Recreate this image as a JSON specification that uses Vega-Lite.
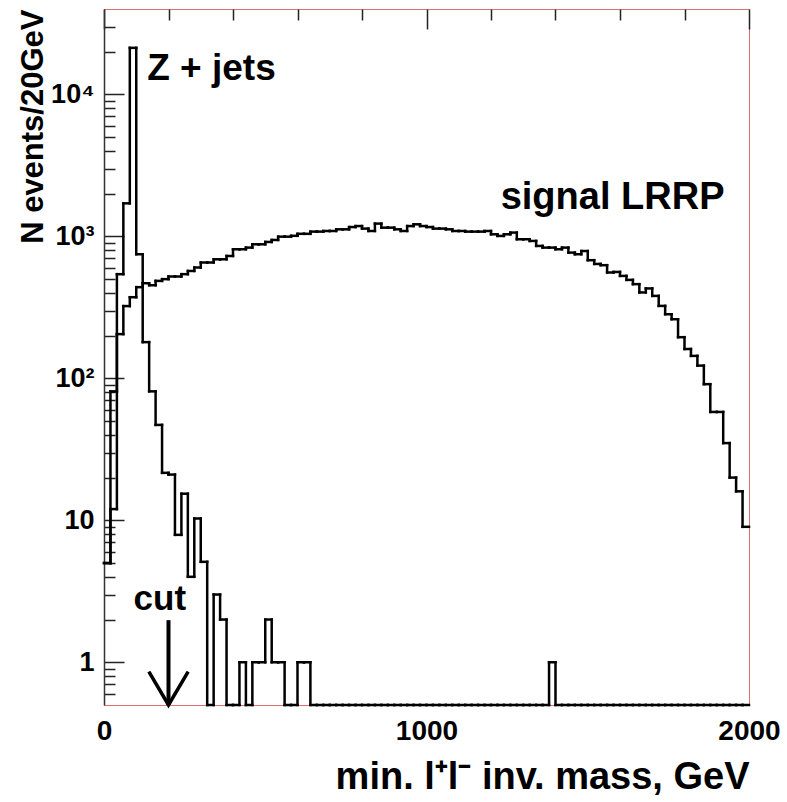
{
  "$schema": "https://vega.github.io/schema/vega-lite/v6.json",
  "width": 645,
  "height": 696,
  "autosize": "none",
  "padding": {"left": 104, "top": 9, "right": 38, "bottom": 97},
  "config": {
    "view": {"stroke": "#e07070", "strokeWidth": 1},
    "font": "Liberation Sans",
    "axis": {"labelColor": "#000", "titleColor": "#000"}
  },
  "datasets": {
    "hist": [
      {"lo":0,"hi":20,"signal":5,"zjets":5},
      {"lo":20,"hi":40,"signal":12,"zjets":81},
      {"lo":40,"hi":60,"signal":205,"zjets":542},
      {"lo":60,"hi":80,"signal":323,"zjets":1710},
      {"lo":80,"hi":100,"signal":373,"zjets":21300},
      {"lo":100,"hi":120,"signal":439,"zjets":749},
      {"lo":120,"hi":140,"signal":468,"zjets":180},
      {"lo":140,"hi":160,"signal":453,"zjets":81},
      {"lo":160,"hi":180,"signal":486,"zjets":47},
      {"lo":180,"hi":200,"signal":500,"zjets":21.6},
      {"lo":200,"hi":220,"signal":522,"zjets":21},
      {"lo":220,"hi":240,"signal":522,"zjets":7.9},
      {"lo":240,"hi":260,"signal":542,"zjets":15.4},
      {"lo":260,"hi":280,"signal":571,"zjets":4},
      {"lo":280,"hi":300,"signal":604,"zjets":10.3},
      {"lo":300,"hi":320,"signal":655,"zjets":5.1},
      {"lo":320,"hi":340,"signal":655,"zjets":0},
      {"lo":340,"hi":360,"signal":690,"zjets":3},
      {"lo":360,"hi":380,"signal":690,"zjets":2},
      {"lo":380,"hi":400,"signal":728,"zjets":0},
      {"lo":400,"hi":420,"signal":812,"zjets":0},
      {"lo":420,"hi":440,"signal":812,"zjets":1},
      {"lo":440,"hi":460,"signal":834,"zjets":0},
      {"lo":460,"hi":480,"signal":880,"zjets":1},
      {"lo":480,"hi":500,"signal":880,"zjets":1},
      {"lo":500,"hi":520,"signal":914,"zjets":2},
      {"lo":520,"hi":540,"signal":944,"zjets":1},
      {"lo":540,"hi":560,"signal":996,"zjets":1},
      {"lo":560,"hi":580,"signal":996,"zjets":0},
      {"lo":580,"hi":600,"signal":1010,"zjets":0},
      {"lo":600,"hi":620,"signal":1043,"zjets":1},
      {"lo":620,"hi":640,"signal":1043,"zjets":1},
      {"lo":640,"hi":660,"signal":1081,"zjets":0},
      {"lo":660,"hi":680,"signal":1081,"zjets":0},
      {"lo":680,"hi":700,"signal":1092,"zjets":0},
      {"lo":700,"hi":720,"signal":1092,"zjets":0},
      {"lo":720,"hi":740,"signal":1122,"zjets":0},
      {"lo":740,"hi":760,"signal":1122,"zjets":0},
      {"lo":760,"hi":780,"signal":1164,"zjets":0},
      {"lo":780,"hi":800,"signal":1183,"zjets":0},
      {"lo":800,"hi":820,"signal":1135,"zjets":0},
      {"lo":820,"hi":840,"signal":1092,"zjets":0},
      {"lo":840,"hi":860,"signal":1231,"zjets":0},
      {"lo":860,"hi":880,"signal":1153,"zjets":0},
      {"lo":880,"hi":900,"signal":1153,"zjets":0},
      {"lo":900,"hi":920,"signal":1122,"zjets":0},
      {"lo":920,"hi":940,"signal":1092,"zjets":0},
      {"lo":940,"hi":960,"signal":1183,"zjets":0},
      {"lo":960,"hi":980,"signal":1217,"zjets":0},
      {"lo":980,"hi":1000,"signal":1183,"zjets":0},
      {"lo":1000,"hi":1020,"signal":1164,"zjets":0},
      {"lo":1020,"hi":1040,"signal":1135,"zjets":0},
      {"lo":1040,"hi":1060,"signal":1135,"zjets":0},
      {"lo":1060,"hi":1080,"signal":1122,"zjets":0},
      {"lo":1080,"hi":1100,"signal":1092,"zjets":0},
      {"lo":1100,"hi":1120,"signal":1092,"zjets":0},
      {"lo":1120,"hi":1140,"signal":1081,"zjets":0},
      {"lo":1140,"hi":1160,"signal":1081,"zjets":0},
      {"lo":1160,"hi":1180,"signal":1081,"zjets":0},
      {"lo":1180,"hi":1200,"signal":1092,"zjets":0},
      {"lo":1200,"hi":1220,"signal":1035,"zjets":0},
      {"lo":1220,"hi":1240,"signal":1008,"zjets":0},
      {"lo":1240,"hi":1260,"signal":1035,"zjets":0},
      {"lo":1260,"hi":1280,"signal":1064,"zjets":0},
      {"lo":1280,"hi":1300,"signal":955,"zjets":0},
      {"lo":1300,"hi":1320,"signal":955,"zjets":0},
      {"lo":1320,"hi":1340,"signal":929,"zjets":0},
      {"lo":1340,"hi":1360,"signal":857,"zjets":0},
      {"lo":1360,"hi":1380,"signal":834,"zjets":0},
      {"lo":1380,"hi":1400,"signal":834,"zjets":1},
      {"lo":1400,"hi":1420,"signal":812,"zjets":0},
      {"lo":1420,"hi":1440,"signal":834,"zjets":0},
      {"lo":1440,"hi":1460,"signal":769,"zjets":0},
      {"lo":1460,"hi":1480,"signal":749,"zjets":0},
      {"lo":1480,"hi":1500,"signal":789,"zjets":0},
      {"lo":1500,"hi":1520,"signal":680,"zjets":0},
      {"lo":1520,"hi":1540,"signal":640,"zjets":0},
      {"lo":1540,"hi":1560,"signal":627,"zjets":0},
      {"lo":1560,"hi":1580,"signal":557,"zjets":0},
      {"lo":1580,"hi":1600,"signal":562,"zjets":0},
      {"lo":1600,"hi":1620,"signal":527,"zjets":0},
      {"lo":1620,"hi":1640,"signal":494,"zjets":0},
      {"lo":1640,"hi":1660,"signal":461,"zjets":0},
      {"lo":1660,"hi":1680,"signal":403,"zjets":0},
      {"lo":1680,"hi":1700,"signal":430,"zjets":0},
      {"lo":1700,"hi":1720,"signal":381,"zjets":0},
      {"lo":1720,"hi":1740,"signal":324,"zjets":0},
      {"lo":1740,"hi":1760,"signal":283,"zjets":0},
      {"lo":1760,"hi":1780,"signal":261,"zjets":0},
      {"lo":1780,"hi":1800,"signal":195,"zjets":0},
      {"lo":1800,"hi":1820,"signal":161,"zjets":0},
      {"lo":1820,"hi":1840,"signal":144,"zjets":0},
      {"lo":1840,"hi":1860,"signal":123,"zjets":0},
      {"lo":1860,"hi":1880,"signal":91,"zjets":0},
      {"lo":1880,"hi":1900,"signal":58,"zjets":0},
      {"lo":1900,"hi":1920,"signal":58,"zjets":0},
      {"lo":1920,"hi":1940,"signal":35,"zjets":0},
      {"lo":1940,"hi":1960,"signal":20,"zjets":0},
      {"lo":1960,"hi":1980,"signal":16,"zjets":0},
      {"lo":1980,"hi":2000,"signal":9,"zjets":0}
    ],
    "arrowhead": [
      {"m": 139, "n": 0.86},
      {"m": 200, "n": 0.5},
      {"m": 261, "n": 0.86}
    ]
  },
  "layer": [
    {
      "data": {"name": "hist"},
      "transform": [{"fold": ["signal", "zjets"], "as": ["series", "n"]}],
      "mark": {"type": "rule", "color": "#000", "strokeWidth": 2.5, "strokeCap": "square"},
      "encoding": {
        "x": {"field": "lo", "type": "quantitative",
              "scale": {"domain": [0, 2000], "nice": false, "zero": false},
              "axis": {"orient": "bottom",
                       "values": [0, 100, 200, 300, 400, 500, 600, 700, 800, 900, 1000, 1100, 1200, 1300, 1400, 1500, 1600, 1700, 1800, 1900, 2000],
                       "ticks": false,
                       "grid": true, "gridColor": "#222", "gridWidth": 1.5,
                       "gridDash": {"condition": {"test": "datum.value % 500 == 0", "value": [20, 3000]}, "value": [11, 3000]},
                       "labelExpr": "datum.value % 500 == 0 ? '' + datum.value : ''",
                       "labelFont": "Liberation Sans", "labelFontWeight": "bold", "labelFontSize": 28,
                       "labelPadding": 12, "labelFlush": false, "labelOverlap": false,
                       "domainColor": "#e07070", "domainWidth": 1,
                       "title": "min. l⁺l⁻ inv. mass, GeV", "titleFont": "Liberation Sans",
                       "titleFontWeight": "bold", "titleFontSize": 38, "titleAnchor": "end", "titlePadding": 13}},
        "x2": {"field": "hi"},
        "y": {"field": "n", "type": "quantitative",
              "scale": {"type": "log", "domain": [0.5, 40000], "nice": false, "clamp": true},
              "axis": {"orient": "left",
                       "values": [0.6, 0.7, 0.8, 0.9, 1, 2, 3, 4, 5, 6, 7, 8, 9, 10, 20, 30, 40, 50, 60, 70, 80, 90, 100, 200, 300, 400, 500, 600, 700, 800, 900, 1000, 2000, 3000, 4000, 5000, 6000, 7000, 8000, 9000, 10000, 20000, 30000],
                       "ticks": false,
                       "grid": true, "gridColor": "#222", "gridWidth": 1.5,
                       "gridDash": {"condition": {"test": "indexof([1, 10, 100, 1000, 10000], datum.value) >= 0", "value": [20, 3000]}, "value": [11, 3000]},
                       "labelExpr": "datum.value == 10000 ? '10⁴' : datum.value == 1000 ? '10³' : datum.value == 100 ? '10²' : datum.value == 10 ? '10' : datum.value == 1 ? '1' : ''",
                       "labelFontWeight": "bold", "labelFontSize": 27, "labelPadding": 10, "labelOverlap": false,
                       "domainColor": "#333", "domainWidth": 1.5,
                       "title": "N events/20GeV", "titleFont": "Liberation Sans",
                       "titleFontWeight": "bold", "titleFontSize": 31, "titleAnchor": "end", "titlePadding": 1}}
      }
    },
    {
      "data": {"name": "hist"},
      "transform": [
        {"fold": ["signal", "zjets"], "as": ["series", "n"]},
        {"window": [{"op": "lag", "field": "n", "as": "prev"}], "groupby": ["series"], "sort": [{"field": "lo"}]},
        {"filter": "datum.prev != null"}
      ],
      "mark": {"type": "rule", "color": "#000", "strokeWidth": 2.5, "strokeCap": "square"},
      "encoding": {
        "x": {"field": "lo", "type": "quantitative", "scale": {"domain": [0, 2000], "nice": false, "zero": false}},
        "y": {"field": "prev", "type": "quantitative", "scale": {"type": "log", "domain": [0.5, 40000], "nice": false, "clamp": true}},
        "y2": {"field": "n"}
      }
    },
    {
      "data": {"values": [{}]},
      "mark": {"type": "rule", "color": "#000", "strokeWidth": 4},
      "encoding": {
        "x": {"datum": 200, "type": "quantitative", "scale": {"domain": [0, 2000], "nice": false, "zero": false}},
        "y": {"datum": 1.98, "type": "quantitative", "scale": {"type": "log", "domain": [0.5, 40000], "nice": false, "clamp": true}},
        "y2": {"datum": 0.5}
      }
    },
    {
      "data": {"name": "arrowhead"},
      "mark": {"type": "line", "color": "#000", "strokeWidth": 3.5},
      "encoding": {
        "x": {"field": "m", "type": "quantitative", "scale": {"domain": [0, 2000], "nice": false, "zero": false}},
        "y": {"field": "n", "type": "quantitative", "scale": {"type": "log", "domain": [0.5, 40000], "nice": false, "clamp": true}}
      }
    },
    {
      "data": {"values": [{}]},
      "mark": {"type": "text", "text": "Z + jets", "align": "left", "baseline": "alphabetic", "font": "Liberation Sans", "fontWeight": "bold", "fontSize": 37, "color": "#000"},
      "encoding": {
        "x": {"datum": 134, "type": "quantitative", "scale": {"domain": [0, 2000], "nice": false, "zero": false}},
        "y": {"datum": 12700, "type": "quantitative", "scale": {"type": "log", "domain": [0.5, 40000], "nice": false, "clamp": true}}
      }
    },
    {
      "data": {"values": [{}]},
      "mark": {"type": "text", "text": "signal LRRP", "align": "left", "baseline": "alphabetic", "font": "Liberation Sans", "fontWeight": "bold", "fontSize": 38, "color": "#000"},
      "encoding": {
        "x": {"datum": 1230, "type": "quantitative", "scale": {"domain": [0, 2000], "nice": false, "zero": false}},
        "y": {"datum": 1550, "type": "quantitative", "scale": {"type": "log", "domain": [0.5, 40000], "nice": false, "clamp": true}}
      }
    },
    {
      "data": {"values": [{}]},
      "mark": {"type": "text", "text": "cut", "align": "center", "baseline": "alphabetic", "font": "Liberation Sans", "fontWeight": "bold", "fontSize": 35, "color": "#000"},
      "encoding": {
        "x": {"datum": 173, "type": "quantitative", "scale": {"domain": [0, 2000], "nice": false, "zero": false}},
        "y": {"datum": 2.32, "type": "quantitative", "scale": {"type": "log", "domain": [0.5, 40000], "nice": false, "clamp": true}}
      }
    }
  ]
}
